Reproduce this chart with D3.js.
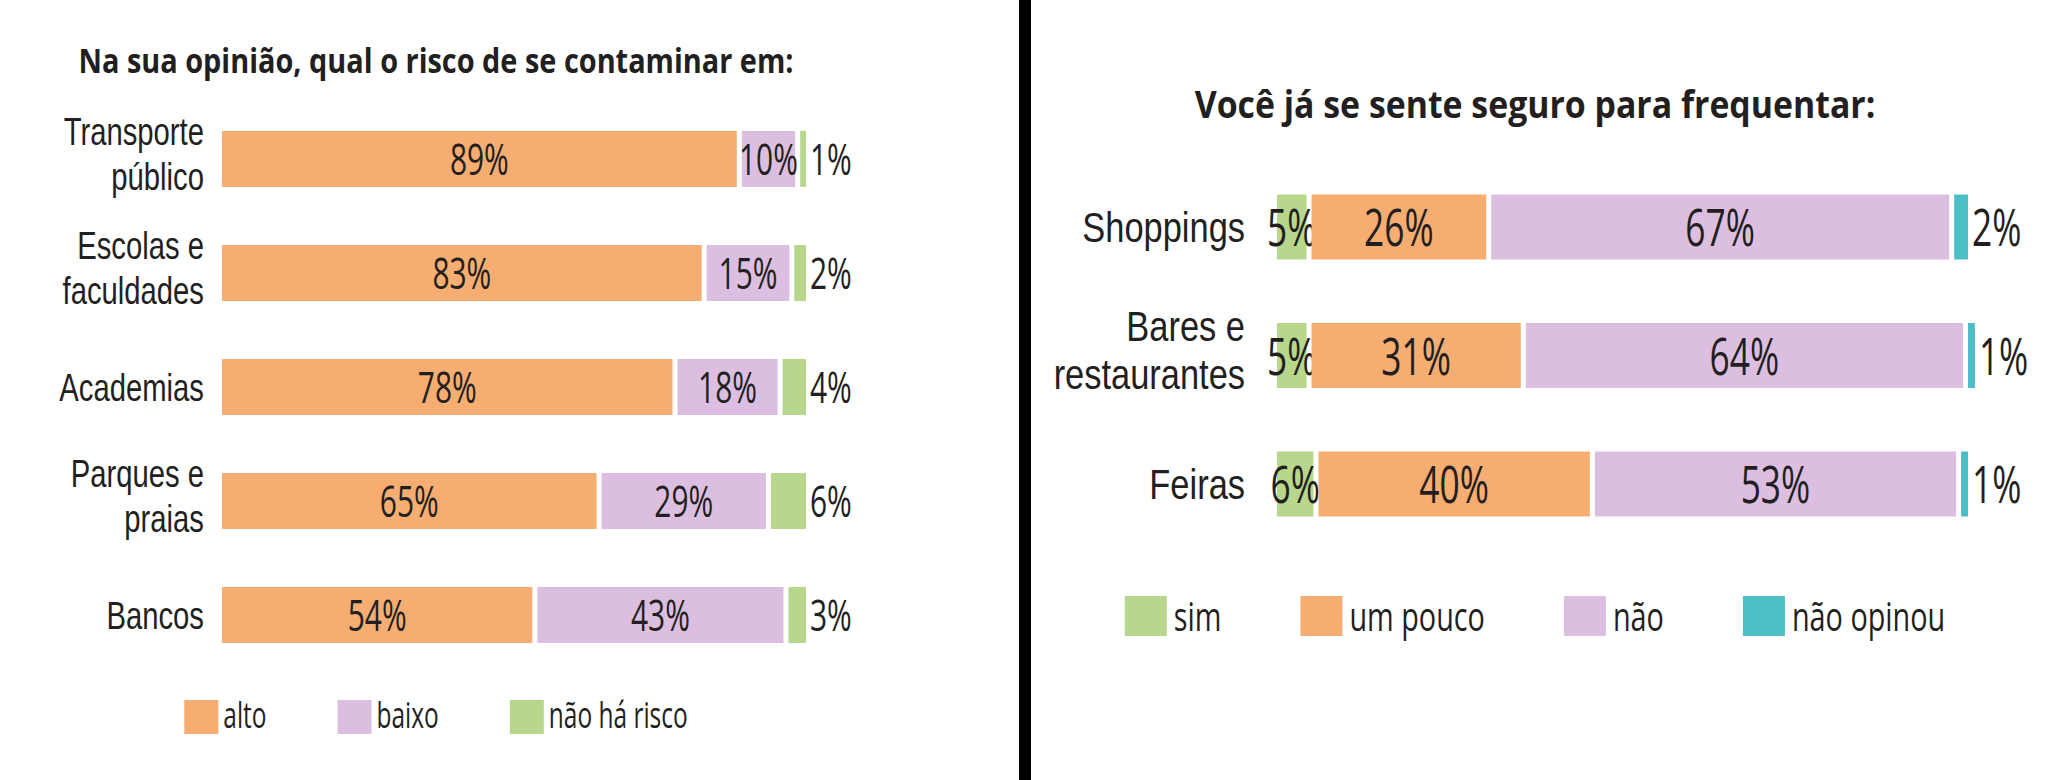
<!DOCTYPE html>
<html>
<head>
<meta charset="utf-8">
<script src="https://cdn.jsdelivr.net/npm/d3@7"></script>
<style>
  body { margin: 0; background: #fff; }
  svg text { font-family: "Open Sans", "Noto Sans", sans-serif; fill: #231f20; }
  svg text.place { font-family: "Liberation Sans", Arial, sans-serif; }
</style>
</head>
<body>
<div id="chart"></div>
<script>
const FRAME_WIDTH = 2050;
const FRAME_HEIGHT = 780;

// left panel: risk of contamination
const RISK_TITLE = "Na sua opinião, qual o risco de se contaminar em:";
const RISK_PLACES = ["Transporte\npúblico", "Escolas e\nfaculdades", "Academias", "Parques e\npraias", "Bancos"];
const RISK_KEYS = ["alto", "baixo", "não há risco"];
const RISK_HIGH = [89, 83, 78, 65, 54];
const RISK_LOW = [10, 15, 18, 29, 43];
const RISK_NONE = [1, 2, 4, 6, 3];

// right panel: feels safe to go to
const SAFE_TITLE = "Você já se sente seguro para frequentar:";
const SAFE_PLACES = ["Shoppings", "Bares e\nrestaurantes", "Feiras"];
const SAFE_KEYS = ["sim", "um pouco", "não", "não opinou"];
const SAFE_YES = [5, 5, 6];
const SAFE_SOME = [26, 31, 40];
const SAFE_NO = [67, 64, 53];
const SAFE_NA = [2, 1, 1];

const ORANGE = "#f5ad72";
const LILAC = "#dcbfe0";
const GREEN = "#b8d78d";
const TEAL = "#4cbfc6";

const SVG = d3.select("#chart")
  .append("svg")
    .attr("width", FRAME_WIDTH)
    .attr("height", FRAME_HEIGHT);

SVG.append("rect")
  .attr("width", FRAME_WIDTH)
  .attr("height", FRAME_HEIGHT)
  .attr("fill", "#fff");

// black divider between the two panels
SVG.append("rect")
  .attr("x", 1019)
  .attr("y", 0)
  .attr("width", 12)
  .attr("height", FRAME_HEIGHT)
  .attr("fill", "#000");

// condensed text: the source font is a narrow one, so squeeze horizontally
function condText(g, x, y, sx, size) {
  return g.append("text")
    .attr("transform", "translate(" + x + "," + y + ") scale(" + sx + ",1)")
    .attr("font-size", size + "px");
}

function drawPanel(p) {
  const g = SVG.append("g");

  // title
  condText(g, p.titleX, p.titleY, p.titleSx, p.titleSize)
    .attr("text-anchor", "middle")
    .attr("font-weight", 700)
    .text(p.title);

  const rows = p.places.map((place, i) => {
    const r = {place: place};
    p.keys.forEach((k, j) => { r[k] = p.series[j][i]; });
    return r;
  });
  const stacked = d3.stack().keys(p.keys)(rows);

  const x = d3.scaleLinear().domain([0, 100]).range(p.xRange);
  const y = d3.scalePoint().domain(p.places).range(p.yRange);

  // category labels, wrapped ones on two lines
  p.places.forEach((place) => {
    const lines = place.split("\n");
    const cy = y(place);
    lines.forEach((line, li) => {
      const base = lines.length === 1
        ? cy + p.labelSize * 0.36
        : cy + p.labelSize * 0.23 + (li - 0.5) * p.lineH;
      condText(g, p.labelX, base, p.labelSx, p.labelSize)
        .attr("class", "place")
        .attr("text-anchor", "end")
        .text(line);
    });
  });

  // bar segments
  stacked.forEach((layer, j) => {
    const last = j === p.keys.length - 1;
    g.selectAll(null)
      .data(layer)
      .enter()
      .append("rect")
        .attr("x", d => x(d[0]))
        .attr("y", d => y(d.data.place) - p.barH / 2)
        .attr("width", d => Math.max(1.5, x(d[1]) - x(d[0]) - (last ? 0 : p.gap)))
        .attr("height", p.barH)
        .attr("fill", p.colors[j]);

    layer.forEach((d) => {
      const v = d[1] - d[0];
      const base = y(d.data.place) + p.pctSize * 0.37;
      if (last) {
        condText(g, x(d[1]) + 4, base, p.sx, p.pctSize)
          .attr("text-anchor", "start")
          .text(v + "%");
      } else {
        const cx = (x(d[0]) + x(d[1]) - p.gap) / 2;
        condText(g, cx, base, p.sx, p.pctSize)
          .attr("text-anchor", "middle")
          .text(v + "%");
      }
    });
  });

  // legend, laid out left to right and centred under the title
  const lg = g.append("g");
  let cursor = 0;
  p.keys.forEach((k, i) => {
    lg.append("rect")
      .attr("x", cursor)
      .attr("y", 0)
      .attr("width", p.swW)
      .attr("height", p.swH)
      .attr("fill", p.colors[i]);
    const t = condText(lg, cursor + p.swW + p.swPad, p.legBase, p.legSx, p.legSize).text(k);
    cursor += p.swW + p.swPad + t.node().getComputedTextLength() * p.legSx + p.legGap;
  });
  const total = cursor - p.legGap;
  lg.attr("transform", "translate(" + (p.titleX - total / 2) + "," + p.legY + ")");
}

drawPanel({
  title: RISK_TITLE, titleX: 436, titleY: 73, titleSize: 34, titleSx: 0.85,
  places: RISK_PLACES, keys: RISK_KEYS,
  series: [RISK_HIGH, RISK_LOW, RISK_NONE],
  colors: [ORANGE, LILAC, GREEN],
  xRange: [222, 806], yRange: [159, 615], barH: 56, gap: 5,
  labelX: 204, labelSize: 39, labelSx: 0.75, lineH: 45, sx: 0.68, pctSize: 44,
  legY: 700, swW: 34, swH: 34, swPad: 5, legGap: 71, legSize: 36, legSx: 0.68, legBase: 28
});

drawPanel({
  title: SAFE_TITLE, titleX: 1535, titleY: 118, titleSize: 38, titleSx: 0.89,
  places: SAFE_PLACES, keys: SAFE_KEYS,
  series: [SAFE_YES, SAFE_SOME, SAFE_NO, SAFE_NA],
  colors: [GREEN, ORANGE, LILAC, TEAL],
  xRange: [1277, 1968], yRange: [227, 484], barH: 65, gap: 5,
  labelX: 1245, labelSize: 42, labelSx: 0.82, lineH: 48, sx: 0.68, pctSize: 52,
  legY: 596, swW: 42, swH: 40, swPad: 7, legGap: 79, legSize: 40, legSx: 0.72, legBase: 35
});
</script>
</body>
</html>
